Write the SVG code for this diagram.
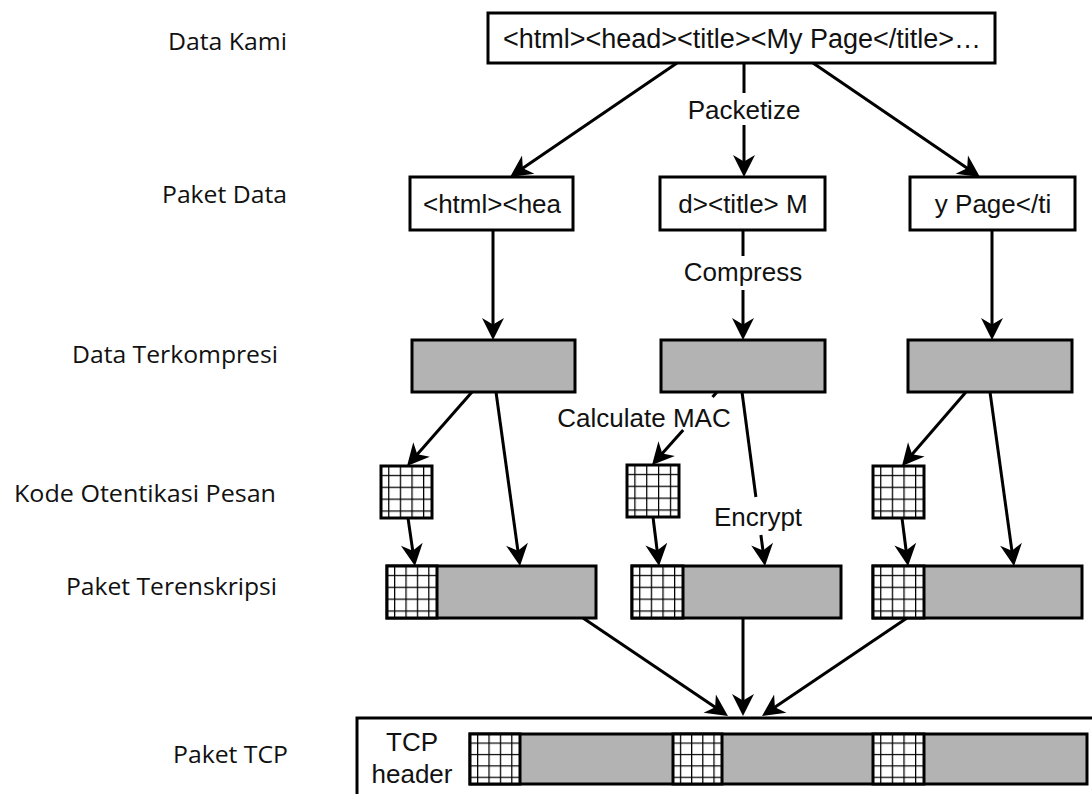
<svg xmlns="http://www.w3.org/2000/svg" width="1092" height="794" viewBox="0 0 1092 794">
  <style>
    .box { fill: #fff; stroke: #000; stroke-width: 3; }
    .gray { fill: #b3b3b3; stroke: #000; stroke-width: 3; }
    .mac { fill: url(#grid); stroke: #000; stroke-width: 3; }
    .lbl { font-family: "Liberation Sans", Arial, sans-serif; font-size: 26px; fill: #111; text-anchor: middle; }
    .side { font-family: "Open Sans", "Noto Sans", sans-serif; font-size: 24px; fill: #111; }
    .con line { stroke: #000; stroke-width: 3; fill: none; }
    .con line.a { marker-end: url(#arrow); }
  </style>
  <defs>
    <marker id="arrow" viewBox="-23 -12 25 24" refX="-6" refY="0" markerWidth="25" markerHeight="24" orient="auto" markerUnits="userSpaceOnUse">
      <path d="M0,0 L-22,-11 L-15.5,0 L-22,11 Z" fill="#000"/>
    </marker>
    <!-- hatched grid used for message authentication codes -->
    <pattern id="grid" patternUnits="objectBoundingBox" x="0.14" y="0.17" width="0.228" height="0.228">
      <rect x="0" y="0" width="14" height="14" fill="#fff"/>
      <path d="M0.6,0 V14 M0,0.6 H14" stroke="#000" stroke-width="1.3"/>
    </pattern>
  </defs>

  <!-- row captions -->
  <g id="captions">
    <text class="side" x="168" y="50" textLength="119" lengthAdjust="spacingAndGlyphs">Data Kami</text>
    <text class="side" x="162" y="203" textLength="125" lengthAdjust="spacingAndGlyphs">Paket Data</text>
    <text class="side" x="72" y="363" textLength="206" lengthAdjust="spacingAndGlyphs">Data Terkompresi</text>
    <text class="side" x="14" y="502" textLength="262" lengthAdjust="spacingAndGlyphs">Kode Otentikasi Pesan</text>
    <text class="side" x="66" y="595" textLength="211" lengthAdjust="spacingAndGlyphs">Paket Terenskripsi</text>
    <text class="side" x="173" y="763" textLength="115" lengthAdjust="spacingAndGlyphs">Paket TCP</text>
  </g>

  <!-- source data -->
  <g id="data">
    <rect class="box" x="488" y="13" width="507" height="50"/>
    <text class="lbl" x="742" y="48" style="font-size:27px">&lt;html&gt;&lt;head&gt;&lt;title&gt;&lt;My Page&lt;/title&gt;…</text>
  </g>

  <!-- packets -->
  <g id="packet1">
    <rect class="box" x="410" y="177" width="163" height="53"/>
    <text class="lbl" x="492" y="213">&lt;html&gt;&lt;hea</text>
  </g>
  <g id="packet2">
    <rect class="box" x="660" y="177" width="165" height="53"/>
    <text class="lbl" x="743" y="213">d&gt;&lt;title&gt; M</text>
  </g>
  <g id="packet3">
    <rect class="box" x="910" y="177" width="165" height="53"/>
    <text class="lbl" x="993" y="213">y Page&lt;/ti</text>
  </g>

  <!-- compressed data -->
  <g id="compressed1"><rect class="gray" x="412" y="340" width="163" height="52"/></g>
  <g id="compressed2"><rect class="gray" x="661" y="340" width="164" height="52"/></g>
  <g id="compressed3"><rect class="gray" x="908" y="340" width="164" height="52"/></g>

  <!-- MACs -->
  <g id="mac1"><rect class="mac" x="381" y="466" width="51" height="52"/></g>
  <g id="mac2"><rect class="mac" x="627" y="465" width="52" height="52"/></g>
  <g id="mac3"><rect class="mac" x="873" y="466" width="51" height="52"/></g>

  <!-- encrypted packets -->
  <g id="encrypted1">
    <rect class="gray" x="387" y="566" width="209" height="52"/>
    <rect class="mac" x="387" y="566" width="50" height="52"/>
  </g>
  <g id="encrypted2">
    <rect class="gray" x="632" y="566" width="209" height="52"/>
    <rect class="mac" x="632" y="566" width="51" height="52"/>
  </g>
  <g id="encrypted3">
    <rect class="gray" x="873" y="566" width="209" height="52"/>
    <rect class="mac" x="873" y="566" width="51" height="52"/>
  </g>

  <!-- TCP packet -->
  <g id="tcp">
    <rect class="box" x="357" y="718" width="760" height="100"/>
    <text class="lbl" x="412" y="751">TCP</text>
    <text class="lbl" x="412" y="783">header</text>
    <rect class="gray" x="470" y="734" width="617" height="50"/>
    <rect class="mac" x="470" y="734" width="50" height="50"/>
    <rect class="mac" x="673" y="734" width="49" height="50"/>
    <rect class="mac" x="873" y="734" width="51" height="50"/>
  </g>

  <!-- connectors -->
  <g id="connectors" class="con">
    <line class="a" x1="677" y1="63" x2="515" y2="173.6"/>
    <line x1="744" y1="63" x2="744" y2="93"/>
    <line class="a" x1="744" y1="125" x2="744" y2="171"/>
    <line class="a" x1="813" y1="63" x2="975" y2="173.6"/>

    <line class="a" x1="493" y1="230" x2="493" y2="334"/>
    <line x1="743" y1="230" x2="743" y2="256"/>
    <line class="a" x1="743" y1="290" x2="743" y2="334"/>
    <line class="a" x1="992" y1="230" x2="992" y2="334"/>

    <line class="a" x1="472" y1="392" x2="411" y2="461.5"/>
    <line class="a" x1="496" y1="392" x2="519.2" y2="560.1"/>
    <line class="a" x1="408" y1="518" x2="414.1" y2="560.1"/>

    <line x1="717" y1="392" x2="712.5" y2="397"/>
    <line class="a" x1="683.2" y1="430" x2="656" y2="460.5"/>
    <line x1="742" y1="392" x2="755.9" y2="497"/>
    <line class="a" x1="760.9" y1="535" x2="764.2" y2="560"/>
    <line class="a" x1="653" y1="517" x2="658.3" y2="560"/>

    <line class="a" x1="966" y1="392" x2="905.9" y2="461.5"/>
    <line class="a" x1="990" y1="392" x2="1013.2" y2="560.1"/>
    <line class="a" x1="902" y1="518" x2="907.3" y2="560"/>

    <line class="a" x1="583" y1="618" x2="723" y2="712.6"/>
    <line class="a" x1="743" y1="618" x2="743" y2="710"/>
    <line class="a" x1="907" y1="618" x2="767" y2="712.6"/>
  </g>

  <!-- step labels -->
  <g id="steps">
    <text class="lbl" x="744" y="119">Packetize</text>
    <text class="lbl" x="743" y="281">Compress</text>
    <text class="lbl" x="644" y="427">Calculate MAC</text>
    <text class="lbl" x="758" y="526">Encrypt</text>
  </g>
</svg>
